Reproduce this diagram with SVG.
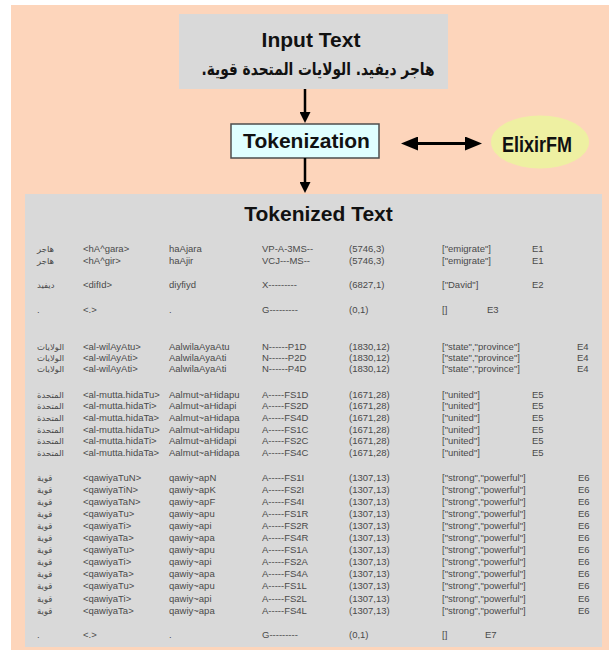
<svg xmlns="http://www.w3.org/2000/svg" width="609" height="651" viewBox="0 0 609 651">
<style>
.title{font-family:"Liberation Sans",Arial,sans-serif;font-weight:bold;font-size:21px;fill:#111;text-anchor:middle}
.ar{font-family:"DejaVu Sans","Noto Sans",sans-serif}
.t{font-family:"Liberation Sans",Arial,sans-serif;font-size:9.5px;fill:#4a4a4a}
.ta{font-family:"DejaVu Sans","Noto Sans",sans-serif;font-size:8.5px;fill:#4a4a4a}
.conn{stroke:#000;fill:none}
</style>
<defs>
<marker id="ah" viewBox="0 0 11 11" refX="6" refY="5.5" markerWidth="11" markerHeight="11" markerUnits="userSpaceOnUse" orient="auto-start-reverse"><path d="M0,0 L11,5.5 L0,11 z" fill="#000"/></marker>
<marker id="ahb" viewBox="0 0 17 14" refX="9" refY="7" markerWidth="17" markerHeight="14" markerUnits="userSpaceOnUse" orient="auto-start-reverse"><path d="M0,0 L17,7 L0,14 z" fill="#000"/></marker>
</defs>
<rect x="0" y="0" width="609" height="651" fill="#fff"/>
<rect x="11" y="5" width="598" height="645" fill="#FDD5BB"/>

<g id="input-text">
<rect x="179" y="14" width="269" height="75" fill="#D9D9D9"/>
<text class="title" x="311" y="47">Input Text</text>
<text class="ar" x="318" y="75" font-size="17" font-weight="bold" text-anchor="middle" fill="#111" textLength="233" lengthAdjust="spacingAndGlyphs">هاجر ديفيد. الولايات المتحدة قوية.&#x200F;</text>
</g>

<g id="tokenization">
<rect x="231" y="124" width="148" height="34" fill="#E0FFFF" stroke="#4d4d4d" stroke-width="1.5"/>
<text class="title" x="306.5" y="148">Tokenization</text>
</g>

<g id="elixirfm">
<ellipse cx="540" cy="142" rx="49" ry="26.5" fill="#EEF0A2"/>
<text x="537" y="151.5" font-family="'Liberation Sans Narrow','Liberation Sans',Arial,sans-serif" font-weight="bold" font-size="22" fill="#111" text-anchor="middle" textLength="70" lengthAdjust="spacingAndGlyphs">ElixirFM</text>
</g>

<g id="connectors">
<line class="conn" x1="305" y1="89" x2="305" y2="118" stroke-width="2.5" marker-end="url(#ah)"/>
<line class="conn" x1="305" y1="158" x2="305" y2="188" stroke-width="2.5" marker-end="url(#ah)"/>
<line class="conn" x1="409" y1="143.5" x2="474" y2="143.5" stroke-width="3" marker-start="url(#ahb)" marker-end="url(#ahb)"/>
</g>

<g id="tokenized-text">
<rect x="25" y="194" width="577" height="453" fill="#D9D9D9"/>
<text class="title" x="318.5" y="221">Tokenized Text</text>

<g class="t">
<!-- group 1 -->
<text class="ta" x="37" y="252">هاجر</text><text x="83" y="252">&lt;hA^gara&gt;</text><text x="169" y="252">haAjara</text><text x="262" y="252">VP-A-3MS--</text><text x="349" y="252">(5746,3)</text><text x="442" y="252">["emigrate"]</text><text x="532" y="252">E1</text>
<text class="ta" x="37" y="264">هاجر</text><text x="83" y="264">&lt;hA^gir&gt;</text><text x="169" y="264">haAjir</text><text x="262" y="264">VCJ---MS--</text><text x="349" y="264">(5746,3)</text><text x="442" y="264">["emigrate"]</text><text x="532" y="264">E1</text>
<text class="ta" x="37" y="288">ديفيد</text><text x="83" y="288">&lt;difId&gt;</text><text x="169" y="288">diyfiyd</text><text x="262" y="288">X---------</text><text x="349" y="288">(6827,1)</text><text x="442" y="288">["David"]</text><text x="532" y="288">E2</text>
<text x="37" y="313">.</text><text x="83" y="313">&lt;.&gt;</text><text x="169" y="313">.</text><text x="262" y="313">G---------</text><text x="349" y="313">(0,1)</text><text x="442" y="313">[]</text><text x="487" y="313">E3</text>
<!-- group 2 -->
<text class="ta" x="37" y="350">الولايات</text><text x="83" y="350">&lt;al-wilAyAtu&gt;</text><text x="169" y="350">AalwilaAyaAtu</text><text x="262" y="350">N------P1D</text><text x="349" y="350">(1830,12)</text><text x="442" y="350">["state","province"]</text><text x="577" y="350">E4</text>
<text class="ta" x="37" y="361">الولايات</text><text x="83" y="361">&lt;al-wilAyAti&gt;</text><text x="169" y="361">AalwilaAyaAti</text><text x="262" y="361">N------P2D</text><text x="349" y="361">(1830,12)</text><text x="442" y="361">["state","province"]</text><text x="577" y="361">E4</text>
<text class="ta" x="37" y="372">الولايات</text><text x="83" y="372">&lt;al-wilAyAti&gt;</text><text x="169" y="372">AalwilaAyaAti</text><text x="262" y="372">N------P4D</text><text x="349" y="372">(1830,12)</text><text x="442" y="372">["state","province"]</text><text x="577" y="372">E4</text>
<!-- group 3 -->
<text class="ta" x="37" y="397.5">المتحدة</text><text x="83" y="397.5">&lt;al-mutta.hidaTu&gt;</text><text x="169" y="397.5">Aalmut~aHidapu</text><text x="262" y="397.5">A-----FS1D</text><text x="349" y="397.5">(1671,28)</text><text x="442" y="397.5">["united"]</text><text x="532" y="397.5">E5</text>
<text class="ta" x="37" y="409.2">المتحدة</text><text x="83" y="409.2">&lt;al-mutta.hidaTi&gt;</text><text x="169" y="409.2">Aalmut~aHidapi</text><text x="262" y="409.2">A-----FS2D</text><text x="349" y="409.2">(1671,28)</text><text x="442" y="409.2">["united"]</text><text x="532" y="409.2">E5</text>
<text class="ta" x="37" y="420.9">المتحدة</text><text x="83" y="420.9">&lt;al-mutta.hidaTa&gt;</text><text x="169" y="420.9">Aalmut~aHidapa</text><text x="262" y="420.9">A-----FS4D</text><text x="349" y="420.9">(1671,28)</text><text x="442" y="420.9">["united"]</text><text x="532" y="420.9">E5</text>
<text class="ta" x="37" y="432.6">المتحدة</text><text x="83" y="432.6">&lt;al-mutta.hidaTu&gt;</text><text x="169" y="432.6">Aalmut~aHidapu</text><text x="262" y="432.6">A-----FS1C</text><text x="349" y="432.6">(1671,28)</text><text x="442" y="432.6">["united"]</text><text x="532" y="432.6">E5</text>
<text class="ta" x="37" y="444.3">المتحدة</text><text x="83" y="444.3">&lt;al-mutta.hidaTi&gt;</text><text x="169" y="444.3">Aalmut~aHidapi</text><text x="262" y="444.3">A-----FS2C</text><text x="349" y="444.3">(1671,28)</text><text x="442" y="444.3">["united"]</text><text x="532" y="444.3">E5</text>
<text class="ta" x="37" y="456">المتحدة</text><text x="83" y="456">&lt;al-mutta.hidaTa&gt;</text><text x="169" y="456">Aalmut~aHidapa</text><text x="262" y="456">A-----FS4C</text><text x="349" y="456">(1671,28)</text><text x="442" y="456">["united"]</text><text x="532" y="456">E5</text>
<!-- group 4 -->
<text class="ta" x="37" y="480.5">قوية</text><text x="83" y="480.5">&lt;qawiyaTuN&gt;</text><text x="169" y="480.5">qawiy~apN</text><text x="262" y="480.5">A-----FS1I</text><text x="349" y="480.5">(1307,13)</text><text x="442" y="480.5">["strong","powerful"]</text><text x="578" y="480.5">E6</text>
<text class="ta" x="37" y="492.6">قوية</text><text x="83" y="492.6">&lt;qawiyaTiN&gt;</text><text x="169" y="492.6">qawiy~apK</text><text x="262" y="492.6">A-----FS2I</text><text x="349" y="492.6">(1307,13)</text><text x="442" y="492.6">["strong","powerful"]</text><text x="578" y="492.6">E6</text>
<text class="ta" x="37" y="504.7">قوية</text><text x="83" y="504.7">&lt;qawiyaTaN&gt;</text><text x="169" y="504.7">qawiy~apF</text><text x="262" y="504.7">A-----FS4I</text><text x="349" y="504.7">(1307,13)</text><text x="442" y="504.7">["strong","powerful"]</text><text x="578" y="504.7">E6</text>
<text class="ta" x="37" y="516.8">قوية</text><text x="83" y="516.8">&lt;qawiyaTu&gt;</text><text x="169" y="516.8">qawiy~apu</text><text x="262" y="516.8">A-----FS1R</text><text x="349" y="516.8">(1307,13)</text><text x="442" y="516.8">["strong","powerful"]</text><text x="578" y="516.8">E6</text>
<text class="ta" x="37" y="528.9">قوية</text><text x="83" y="528.9">&lt;qawiyaTi&gt;</text><text x="169" y="528.9">qawiy~api</text><text x="262" y="528.9">A-----FS2R</text><text x="349" y="528.9">(1307,13)</text><text x="442" y="528.9">["strong","powerful"]</text><text x="578" y="528.9">E6</text>
<text class="ta" x="37" y="541">قوية</text><text x="83" y="541">&lt;qawiyaTa&gt;</text><text x="169" y="541">qawiy~apa</text><text x="262" y="541">A-----FS4R</text><text x="349" y="541">(1307,13)</text><text x="442" y="541">["strong","powerful"]</text><text x="578" y="541">E6</text>
<text class="ta" x="37" y="553.1">قوية</text><text x="83" y="553.1">&lt;qawiyaTu&gt;</text><text x="169" y="553.1">qawiy~apu</text><text x="262" y="553.1">A-----FS1A</text><text x="349" y="553.1">(1307,13)</text><text x="442" y="553.1">["strong","powerful"]</text><text x="578" y="553.1">E6</text>
<text class="ta" x="37" y="565.2">قوية</text><text x="83" y="565.2">&lt;qawiyaTi&gt;</text><text x="169" y="565.2">qawiy~api</text><text x="262" y="565.2">A-----FS2A</text><text x="349" y="565.2">(1307,13)</text><text x="442" y="565.2">["strong","powerful"]</text><text x="578" y="565.2">E6</text>
<text class="ta" x="37" y="577.3">قوية</text><text x="83" y="577.3">&lt;qawiyaTa&gt;</text><text x="169" y="577.3">qawiy~apa</text><text x="262" y="577.3">A-----FS4A</text><text x="349" y="577.3">(1307,13)</text><text x="442" y="577.3">["strong","powerful"]</text><text x="578" y="577.3">E6</text>
<text class="ta" x="37" y="589.4">قوية</text><text x="83" y="589.4">&lt;qawiyaTu&gt;</text><text x="169" y="589.4">qawiy~apu</text><text x="262" y="589.4">A-----FS1L</text><text x="349" y="589.4">(1307,13)</text><text x="442" y="589.4">["strong","powerful"]</text><text x="578" y="589.4">E6</text>
<text class="ta" x="37" y="601.5">قوية</text><text x="83" y="601.5">&lt;qawiyaTi&gt;</text><text x="169" y="601.5">qawiy~api</text><text x="262" y="601.5">A-----FS2L</text><text x="349" y="601.5">(1307,13)</text><text x="442" y="601.5">["strong","powerful"]</text><text x="578" y="601.5">E6</text>
<text class="ta" x="37" y="613.6">قوية</text><text x="83" y="613.6">&lt;qawiyaTa&gt;</text><text x="169" y="613.6">qawiy~apa</text><text x="262" y="613.6">A-----FS4L</text><text x="349" y="613.6">(1307,13)</text><text x="442" y="613.6">["strong","powerful"]</text><text x="578" y="613.6">E6</text>
<!-- last -->
<text x="37" y="637.5">.</text><text x="83" y="637.5">&lt;.&gt;</text><text x="169" y="637.5">.</text><text x="262" y="637.5">G---------</text><text x="349" y="637.5">(0,1)</text><text x="442" y="637.5">[]</text><text x="485" y="637.5">E7</text>
</g>
</g>
</svg>
